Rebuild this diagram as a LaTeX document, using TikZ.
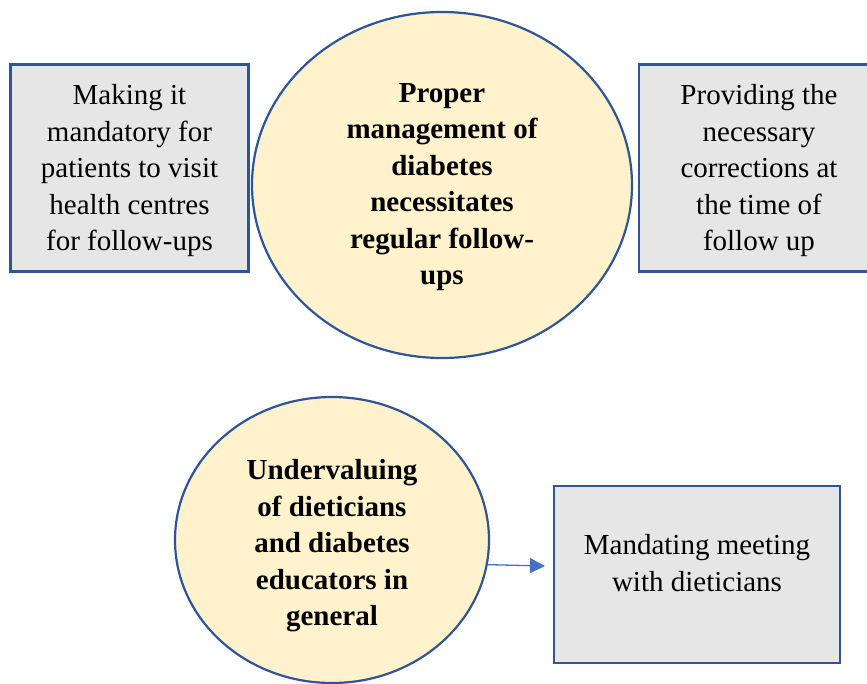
\documentclass[tikz,border=0pt]{standalone}
\usepackage{fontspec}
\setmainfont{Liberation Serif}
\usetikzlibrary{shapes.geometric,arrows.meta}
\definecolor{edgeblue}{HTML}{2F5597}
\definecolor{arrowblue}{HTML}{4472C4}
\definecolor{boxgray}{HTML}{E7E6E6}
\definecolor{ovalfill}{HTML}{FFF2CC}
\tikzset{
  txt/.style={font=\fontsize{29}{36.5}\selectfont, align=center, inner sep=0pt},
  boldtxt/.style={txt, font=\fontsize{29}{36.5}\selectfont\bfseries},
  graybox/.style={rectangle, draw=edgeblue, fill=boxgray, line width=2.2pt, inner sep=0pt},
  oval/.style={ellipse, draw=edgeblue, fill=ovalfill, line width=2.2pt, inner sep=0pt},
  link/.style={draw=arrowblue, line width=1.3pt, -{Triangle[length=15pt,width=15pt]}}
}
\begin{document}
\begin{tikzpicture}[x=1pt,y=-1pt]
  \useasboundingbox (0,0) rectangle (867,684);
  \clip (0,0) rectangle (867,684);
  \fill[white] (0,0) rectangle (867,684);

  % upper row: shapes
  \node[graybox, minimum width=238pt, minimum height=207pt] (lbox) at (129.5,168) {};
  \node[oval, minimum width=380pt, minimum height=346pt] (te) at (442,185) {};
  \node[graybox, minimum width=240pt, minimum height=207pt] (rbox) at (759,168) {};
  % upper row: texts
  \node[txt] (ltext) at (129.5,171)
    {Making it\\mandatory for\\patients to visit\\health centres\\for follow-ups};
  \node[boldtxt] (tetext) at (442,187)
    {Proper\\management of\\diabetes\\necessitates\\regular follow-\\ups};
  \node[txt] (rtext) at (759,171)
    {Providing the\\necessary\\corrections at\\the time of\\follow up};

  % lower row
  \node[oval, minimum width=314pt, minimum height=286pt] (ue) at (332,540) {};
  \node[boldtxt] (uetext) at (332,546)
    {Undervaluing\\of dieticians\\and diabetes\\educators in\\general};
  \node[graybox, minimum width=286pt, minimum height=177pt] (bbox) at (697,574.5) {};
  \node[txt] (btext) at (697,563) {Mandating meeting\\with dieticians};

  \coordinate (tip) at (545,566);
  \draw[link] (ue.-9) -- (tip);
\end{tikzpicture}
\end{document}
